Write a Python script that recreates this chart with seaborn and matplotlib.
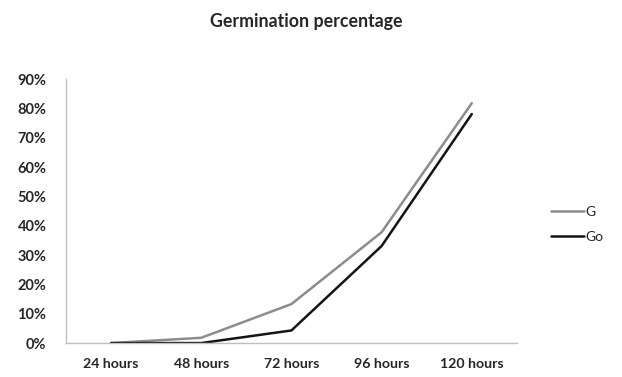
import numpy as np
import pandas as pd
import matplotlib
matplotlib.use('Agg')
import matplotlib.pyplot as plt
import seaborn as sns

hours = ['24 hours', '48 hours', '72 hours', '96 hours', '120 hours']
g_vals = [0.0, 0.018, 0.133, 0.378, 0.818]
go_vals = [0.0, 0.0, 0.043, 0.331, 0.781]

df = pd.DataFrame({'time': hours * 2,
                   'pct': g_vals + go_vals,
                   'series': ['G'] * 5 + ['Go'] * 5})
df['x'] = list(range(5)) * 2

sns.set_theme(style='white')
plt.rcParams['font.family'] = ['Lato', 'DejaVu Sans']

fig = plt.figure(figsize=(6.22, 3.77), dpi=100)
ax = fig.add_axes([0.106, 0.090, 0.725, 0.700])
sns.lineplot(data=df, x='x', y='pct', hue='series', palette={'G': '#8c8c8c', 'Go': '#141414'},
             lw=1.8, ax=ax, legend=False)

ax.set_xlim(-0.5, 4.5)
ax.set_ylim(0, 0.9)
ax.set_xticks(range(5))
ax.set_xticklabels(hours, fontweight='bold', fontsize=10.2)
ax.set_yticks(np.arange(0, 0.91, 0.1))
ax.set_yticklabels([f'{int(round(v * 100))}%' for v in np.arange(0, 0.91, 0.1)], fontweight='bold', fontsize=10.5)
ax.tick_params(axis='x', length=0, pad=11)
ax.tick_params(axis='y', length=0, pad=14)
ax.set_xlabel('')
ax.set_ylabel('')
for s in ['top', 'right']:
    ax.spines[s].set_visible(False)
for s in ['left', 'bottom']:
    ax.spines[s].set_color('#bfbfbf')
    ax.spines[s].set_linewidth(1)

fig.suptitle('Germination percentage', x=0.492, y=0.942, va='center', fontsize=12.8, fontweight='bold')

from matplotlib.lines import Line2D
handles = [Line2D([], [], color='#8c8c8c', lw=1.8), Line2D([], [], color='#141414', lw=1.8)]
fig.legend(handles, ['G', 'Go'], loc='center left', bbox_to_anchor=(0.865, 0.405), frameon=False,
           fontsize=10, handlelength=2.4, handletextpad=0.1, labelspacing=0.95)

fig.savefig('out.png', dpi=100)
